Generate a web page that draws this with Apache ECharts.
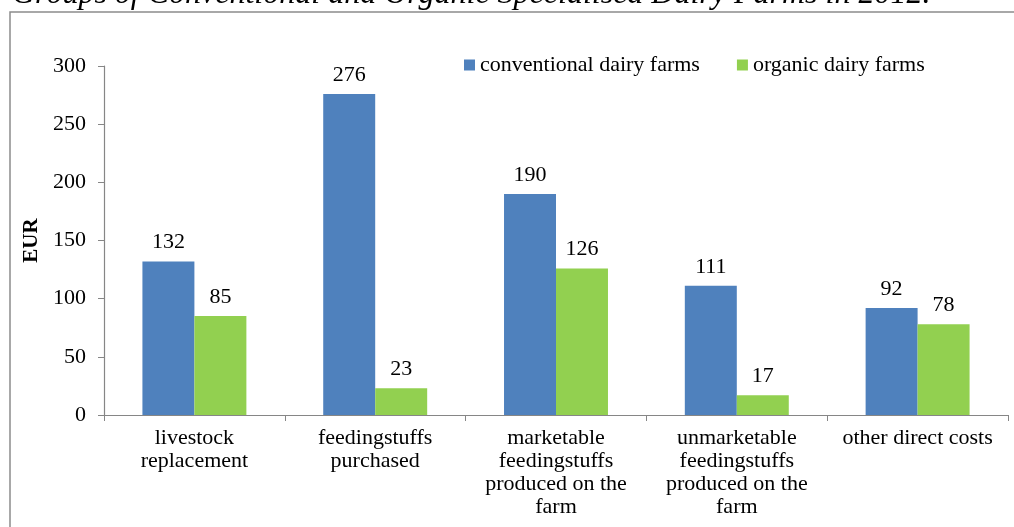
<!DOCTYPE html>
<html>
<head>
<meta charset="utf-8">
<script src="https://cdn.jsdelivr.net/npm/echarts@6/dist/echarts.min.js"></script>
<style>html,body{margin:0;padding:0;background:#fff;}#c{width:1014px;height:527px;}</style>
</head>
<body>
<div id="c"></div>
<script>
const titleText = 'Groups of Conventional and Organic Specialised Dairy Farms in 2012.';
const categories = ['livestock\nreplacement', 'feedingstuffs\npurchased', 'marketable\nfeedingstuffs\nproduced on the\nfarm', 'unmarketable\nfeedingstuffs\nproduced on the\nfarm', 'other direct costs'];
const seriesNames = ['conventional dairy farms', 'organic dairy farms'];
const conventional = [132, 276, 190, 111, 92];
const organic = [85, 23, 126, 17, 78];
const yTicks = { min: 0, max: 300, interval: 50 };

const FONT = '"Liberation Serif", "Times New Roman", serif';
const chart = echarts.init(document.getElementById('c'));
chart.setOption({
  backgroundColor: '#fff',
  animation: false,
  textStyle: { fontFamily: FONT, color: '#000' },
  graphic: [
    { type: 'rect', shape: { x: 10, y: 12, width: 1020, height: 540 }, style: { fill: 'none', stroke: '#8c8c8c', lineWidth: 1.5 }, z: -1 },
    { type: 'text', x: 12, y: 11, style: { text: titleText, font: 'italic 32px ' + FONT, fill: '#000', textVerticalAlign: 'bottom' } }
  ],
  legend: {
    data: seriesNames,
    left: 459, top: 49,
    itemWidth: 11, itemHeight: 11, itemGap: 37,
    icon: 'rect',
    textStyle: { fontFamily: FONT, fontSize: 22, color: '#000' }
  },
  grid: { left: 104, right: 6, top: 66, bottom: 112, containLabel: false },
  xAxis: {
    type: 'category',
    data: categories,
    axisLine: { lineStyle: { color: '#868686', width: 1.2 } },
    axisTick: { show: true, alignWithLabel: false, length: 6, lineStyle: { color: '#868686' } },
    axisLabel: { interval: 0, fontFamily: FONT, fontSize: 22, lineHeight: 23, color: '#000', margin: 12 }
  },
  yAxis: {
    type: 'value',
    min: yTicks.min, max: yTicks.max, interval: yTicks.interval,
    name: 'EUR', nameLocation: 'middle', nameGap: 60,
    nameTextStyle: { fontFamily: FONT, fontSize: 21, fontWeight: 'bold', color: '#000' },
    axisLine: { show: true, lineStyle: { color: '#868686', width: 1.2 } },
    axisTick: { show: true, length: 6, lineStyle: { color: '#868686' } },
    splitLine: { show: false },
    axisLabel: { fontFamily: FONT, fontSize: 22, color: '#000', margin: 18 }
  },
  series: [
    { name: seriesNames[0], type: 'bar', data: conventional, itemStyle: { color: '#4F81BD' }, barGap: '0%', barCategoryGap: '42.5%',
      label: { show: true, position: 'top', distance: 8, fontFamily: FONT, fontSize: 22, color: '#000' } },
    { name: seriesNames[1], type: 'bar', data: organic, itemStyle: { color: '#92D050' }, barGap: '0%', barCategoryGap: '42.5%',
      label: { show: true, position: 'top', distance: 8, fontFamily: FONT, fontSize: 22, color: '#000' } }
  ]
});
</script>
</body>
</html>
